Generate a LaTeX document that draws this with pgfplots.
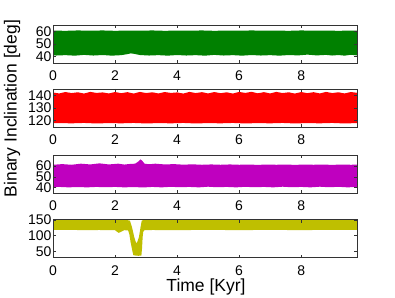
\documentclass[border=0pt]{standalone}
\usepackage{fontspec}
\setmainfont{Liberation Sans}
\usepackage{pgfplots}
\pgfplotsset{compat=1.18}
\definecolor{cg}{rgb}{0,0.5,0}
\definecolor{cr}{rgb}{1,0,0}
\definecolor{cm}{rgb}{0.75,0,0.75}
\definecolor{cy}{rgb}{0.75,0.75,0}
\pgfplotsset{panel/.style={scale only axis, width=304pt, height=38pt,
  xmin=0, xmax=9.8, xtick={0,2,4,6,8}, tick align=inside,
  major tick length=3pt, tick style={black!80, line width=0.4pt},
  axis line style={black!80, line width=0.5pt},
  tick label style={font=\fontsize{14}{14}\selectfont},
  xticklabel style={yshift=-4.5pt},
  yticklabel style={xshift=2pt},
  /pgf/number format/assume math mode=true,
  anchor=north west, axis on top}}
\begin{document}
\begin{tikzpicture}
\path[use as bounding box] (0,0) rectangle (395pt,297pt);
% panel 1
\begin{axis}[panel, at={(53pt,272pt)}, ymin=35, ymax=65, ytick={40,50,60}]
\addplot[fill=cg, draw=none] coordinates {
(0,60.6)(0.4,60.4)(0.8,60.7)(1.2,60.5)(1.6,60.7)(2,60.4)(2.4,60.6)(2.8,60.5)(3.2,60.7)(3.6,60.4)(4,60.6)(4.4,60.5)(4.8,60.7)(5.2,60.4)(5.6,60.6)(6,60.5)(6.4,60.7)(6.8,60.5)(7.2,60.6)(7.6,60.4)(8,60.7)(8.4,60.5)(8.8,60.6)(9.2,60.4)(9.6,60.6)(9.8,60.5)
(9.8,41.0)(9.6,41.5)(9.4,40.8)(9.2,41.3)(9.0,40.9)(8.8,41.4)(8.5,41.0)(8.2,41.6)(7.9,41.0)(7.6,41.3)(7.3,40.8)(7.0,41.2)(6.7,40.9)(6.4,41.3)(6.1,40.8)(5.8,41.2)(5.5,40.9)(5.2,41.4)(4.9,40.8)(4.6,41.2)(4.3,40.9)(4.0,41.3)(3.7,40.8)(3.4,41.2)(3.1,40.9)(2.8,41.3)(2.6,42.3)(2.5,42.6)(2.4,42.0)(2.2,41.2)(1.9,40.8)(1.6,41.3)(1.3,40.9)(1.0,41.4)(0.7,40.8)(0.4,41.2)(0.1,40.9)(0,41.1)
} -- cycle;
\end{axis}
% panel 2
\begin{axis}[panel, at={(53pt,208pt)}, ymin=115, ymax=145, ytick={120,130,140}]
\addplot[fill=cr, draw=none] coordinates {
(0,142.2)(0.2,141.5)(0.4,142.6)(0.6,141.8)(0.8,142.4)(1.0,141.4)(1.2,142.7)(1.4,141.9)(1.6,142.3)(1.8,141.5)(2.0,142.6)(2.2,141.7)(2.4,142.5)(2.6,141.4)(2.8,142.7)(3.0,141.8)(3.2,142.4)(3.4,141.5)(3.6,142.6)(3.8,141.9)(4.0,142.3)(4.2,141.4)(4.4,142.7)(4.6,141.8)(4.8,142.5)(5.0,141.5)(5.2,142.6)(5.4,141.7)(5.6,142.4)(5.8,141.4)(6.0,142.7)(6.2,141.9)(6.4,142.8)(6.6,141.6)(6.8,142.5)(7.0,141.5)(7.2,142.7)(7.4,141.8)(7.6,142.4)(7.8,141.4)(8.0,142.6)(8.2,141.7)(8.4,142.5)(8.6,141.5)(8.8,142.7)(9.0,141.8)(9.2,142.4)(9.4,141.5)(9.6,142.6)(9.8,142.0)
(9.8,118.1)(9.4,117.8)(9.0,118.2)(8.6,117.9)(8.2,118.1)(7.8,117.8)(7.4,118.2)(7.0,117.9)(6.6,118.1)(6.2,117.8)(5.8,118.2)(5.4,117.9)(5.0,118.1)(4.6,117.8)(4.2,118.2)(3.8,117.9)(3.4,118.1)(3.0,117.8)(2.6,118.2)(2.2,117.9)(1.8,118.1)(1.4,117.8)(1.0,118.2)(0.6,117.9)(0.2,118.1)(0,118.0)
} -- cycle;
\end{axis}
% panel 3
\begin{axis}[panel, at={(53pt,142pt)}, ymin=35, ymax=70, ytick={40,50,60}]
\addplot[fill=cm, draw=none] coordinates {
(0,61.0)(0.3,61.6)(0.6,61.0)(0.9,62.0)(1.2,61.3)(1.5,62.3)(1.8,61.3)(2.1,62.0)(2.3,61.2)(2.5,61.8)(2.65,62.0)(2.75,64.0)(2.82,66.0)(2.88,64.5)(2.95,62.0)(3.1,61.5)(3.3,62.0)(3.6,61.3)(3.9,61.6)(4.2,61.1)(4.5,61.4)(4.8,61.0)(5.1,61.3)(5.4,61.0)(5.7,61.3)(6.0,61.0)(6.3,61.2)(6.6,60.9)(6.9,61.2)(7.2,61.0)(7.5,61.2)(7.8,60.9)(8.1,61.2)(8.4,61.0)(8.7,61.2)(9.0,60.9)(9.3,61.2)(9.6,61.0)(9.8,61.1)
(9.8,40.6)(9.5,40.2)(9.2,40.7)(8.9,40.3)(8.6,40.8)(8.3,40.2)(8.0,40.6)(7.7,40.3)(7.4,40.8)(7.1,40.2)(6.8,40.6)(6.5,40.3)(6.2,40.7)(5.9,40.2)(5.6,40.6)(5.3,40.3)(5.0,40.8)(4.7,40.2)(4.4,40.6)(4.1,40.3)(3.8,40.7)(3.5,40.2)(3.2,40.6)(2.9,40.1)(2.6,40.5)(2.3,40.2)(2.0,40.6)(1.7,40.3)(1.4,40.6)(1.1,40.2)(0.8,40.5)(0.5,40.2)(0.2,40.6)(0,40.4)
} -- cycle;
\end{axis}
% panel 4
\begin{axis}[panel, at={(53pt,77.3pt)}, ymin=30, ymax=150, ytick={50,100,150}]
\addplot[fill=cy, draw=none] coordinates {
(0,148.5)(0.5,149)(1,148.5)(1.5,149)(2,148.5)(2.4,148.5)(2.48,147)(2.55,125)(2.62,95)(2.68,76)(2.72,80)(2.77,95)(2.82,125)(2.86,147)(2.9,148.5)(3.5,149)(4,148.5)(5,149)(6,148.5)(7,149)(8,148.5)(9,149)(9.8,148.5)
(9.8,117.5)(9,117.8)(8,117.3)(7,117.7)(6,117.3)(5,117.7)(4,117.3)(3.2,117.5)(2.95,117)(2.91,112)(2.89,95)(2.87,60)(2.85,37)(2.75,36)(2.65,37)(2.59,38)(2.55,55)(2.5,80)(2.46,105)(2.42,116)(2.3,117)(2.2,112)(2.12,108.5)(2.05,113)(2.0,117)(1.5,117.5)(1,117.3)(0.5,117.7)(0,117.5)
} -- cycle;
\end{axis}
\node[rotate=90, font=\fontsize{17.5}{18}\selectfont] at (12pt,188.5pt) {Binary Inclination [deg]};
\node[anchor=base, font=\fontsize{17.5}{18}\selectfont] at (206pt,5.3pt) {Time [Kyr]};
\end{tikzpicture}
\end{document}
